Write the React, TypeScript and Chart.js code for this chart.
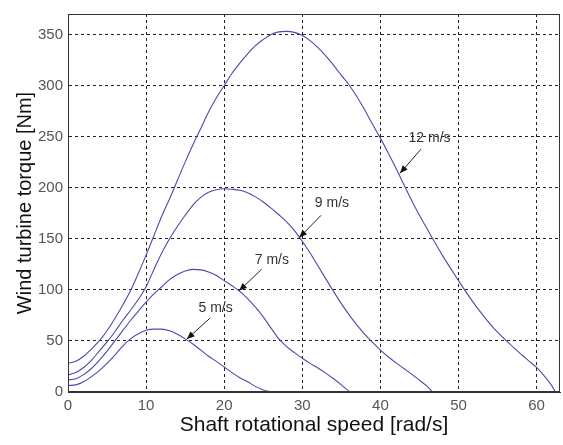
import React, { useEffect, useRef } from "react";
import { Chart, registerables } from "chart.js";

Chart.register(...registerables);

const xTicks = [0, 10, 20, 30, 40, 50, 60];
const yTicks = [0, 50, 100, 150, 200, 250, 300, 350];

const speed12 = [0,1,2,3,4,5,6,7,8,9,10,11,12,13,14,15,16,17,18,19,20,21,22,23,24,25,26,27,28,29,30,31,32,33,34,35,36,37,38,39,40,41,42,43,44,45,46,47,48,49,50,51,52,53,54,55,56,57,58,59,60,61,62,62.4];
const torque12 = [28,30,35,42,50,60,72,85,99,116,134,153,172,189,207,225,242,258,274,288,300,312,322,331,339,345,350,352.5,353,352,349,344,337,329,320,310,300.5,289,276,262,248.5,234,219,203,187.5,173,159.5,146,133,121,109,97.5,86.5,76.5,67,58.5,51,44,37,30.5,24,15.5,5.5,0];

const speed9 = [0,1,2,3,4,5,6,7,8,9,10,11,12,13,14,15,16,17,18,19,20,21,22,23,24,25,26,27,28,29,30,31,32,33,34,35,36,37,38,39,40,41,42,43,44,45,46,46.7];
const torque9 = [16.6,19,24,31,40,49,59,70,80,90.5,103,120,136,150,162,173,183,190.5,195.5,198,199,198.5,197.5,195,191,186,180,173.5,166.5,158,147.5,136,123.5,111,98.5,86.5,75.5,65.5,56.5,48.5,41,34.5,28.5,23,17.5,11.5,5.5,0];

const speed7 = [0,1,2,3,4,5,6,7,8,9,10,11,12,13,14,15,16,17,18,19,20,21,22,23,24,25,26,27,28,29,30,31,32,33,34,35,36.1];
const torque7 = [11.8,13,17,23,31,40,50,60,70,79,88,96,103,110,115,118.5,120,119.5,117.5,114,109,104,98.5,91.5,83,73.5,62.5,52,44.5,38.5,33,28,23.5,18.5,13,7,0];

const speed5 = [0,1,2,3,4,5,6,7,8,9,10,11,12,13,14,15,16,17,18,19,20,21,22,23,24,25,26];
const torque5 = [6.3,7,10,15,21,28,36,45,52,57,60.5,61.5,61.5,60,56.5,52,47,41,35,30,24.5,19,14,10,5.5,2,0];

const annotLabels = ["12 m/s", "9 m/s", "7 m/s", "5 m/s"];
const annotTextX = [46.3, 33.8, 26.1, 18.9];
const annotTextY = [248, 185, 129.5, 81.7];
const arrowFromX = [45.2, 32.4, 24.8, 18.2];
const arrowFromY = [237.7, 172.9, 120.2, 72.4];
const arrowTipX = [42.5, 29.6, 21.9, 15.2];
const arrowTipY = [214, 151, 99, 51.7];

const FONT = "'Liberation Sans', Arial, Helvetica, sans-serif";
const LINE = "#4a4aae";

function pts(xs: number[], ys: number[]) {
  return xs.map((x, i) => ({ x, y: ys[i] }));
}

export default function App() {
  const ref = useRef<HTMLCanvasElement>(null);

  useEffect(() => {
    const canvas = ref.current;
    if (!canvas) return;

    const frame = {
      id: "frame",
      afterDraw(chart: any) {
        const { ctx, chartArea: a } = chart;
        ctx.save();
        ctx.strokeStyle = "#333";
        ctx.lineWidth = 1;
        const l = Math.round(a.left) + 0.5;
        const t = Math.round(a.top) + 0.5;
        const r = Math.round(a.right) - 0.5;
        const b = Math.round(a.bottom) - 0.5;
        ctx.strokeRect(l, t, r - l, b - t);
        ctx.restore();
      },
    };

    const annots = {
      id: "annots",
      afterDatasetsDraw(chart: any) {
        const { ctx } = chart;
        const xs = chart.scales.x;
        const ys = chart.scales.y;
        ctx.save();
        for (let i = 0; i < annotLabels.length; i++) {
          const tx = xs.getPixelForValue(annotTextX[i]);
          const ty = ys.getPixelForValue(annotTextY[i]);
          const fx = xs.getPixelForValue(arrowFromX[i]);
          const fy = ys.getPixelForValue(arrowFromY[i]);
          const px = xs.getPixelForValue(arrowTipX[i]);
          const py = ys.getPixelForValue(arrowTipY[i]);
          ctx.fillStyle = "#333";
          ctx.font = `14px ${FONT}`;
          ctx.textAlign = "center";
          ctx.textBaseline = "middle";
          ctx.fillText(annotLabels[i], tx, ty);
          ctx.strokeStyle = "#222";
          ctx.lineWidth = 1;
          ctx.beginPath();
          ctx.moveTo(fx, fy);
          ctx.lineTo(px, py);
          ctx.stroke();
          const ang = Math.atan2(py - fy, px - fx);
          const len = 8;
          const hw = 3.2;
          const bx = px - len * Math.cos(ang);
          const by = py - len * Math.sin(ang);
          ctx.fillStyle = "#111";
          ctx.beginPath();
          ctx.moveTo(px, py);
          ctx.lineTo(bx + hw * Math.sin(ang), by - hw * Math.cos(ang));
          ctx.lineTo(bx - hw * Math.sin(ang), by + hw * Math.cos(ang));
          ctx.closePath();
          ctx.fill();
        }
        ctx.restore();
      },
    };

    const ds = (label: string, xs: number[], ys: number[]) => ({
      label,
      data: pts(xs, ys),
      borderColor: LINE,
      borderWidth: 1.1,
      pointRadius: 0,
      fill: false,
      cubicInterpolationMode: "monotone" as const,
    });

    const chart = new Chart(canvas, {
      type: "line",
      data: {
        datasets: [
          ds("12 m/s", speed12, torque12),
          ds("9 m/s", speed9, torque9),
          ds("7 m/s", speed7, torque7),
          ds("5 m/s", speed5, torque5),
        ],
      },
      options: {
        responsive: false,
        animation: false,
        layout: { padding: { top: 5, right: 3, left: 0, bottom: 0 } },
        plugins: {
          legend: { display: false },
          tooltip: { enabled: false },
        },
        scales: {
          x: {
            type: "linear",
            min: 0,
            max: 63,
            afterBuildTicks: (s: any) => {
              s.ticks = xTicks.map((v) => ({ value: v }));
            },
            afterFit: (s: any) => {
              s.height = 53;
            },
            grid: { color: "#222", lineWidth: 1, drawTicks: false },
            border: { display: true, color: "#333", width: 1, dash: [3, 3] },
            ticks: {
              padding: 5,
              color: "#555",
              maxRotation: 0,
              autoSkip: false,
              font: { family: FONT, size: 15 },
            },
            title: {
              display: true,
              text: "Shaft rotational speed [rad/s]",
              color: "#111",
              font: { family: FONT, size: 21 },
              padding: { top: 0, bottom: 7 },
            },
          },
          y: {
            type: "linear",
            min: 0,
            max: 370,
            afterBuildTicks: (s: any) => {
              s.ticks = yTicks.map((v) => ({ value: v }));
            },
            afterFit: (s: any) => {
              s.width = 68;
            },
            grid: { color: "#222", lineWidth: 1, drawTicks: false },
            border: { display: true, color: "#333", width: 1, dash: [3, 3] },
            ticks: {
              padding: 5,
              color: "#555",
              autoSkip: false,
              font: { family: FONT, size: 15 },
            },
            title: {
              display: true,
              text: "Wind turbine torque [Nm]",
              color: "#111",
              font: { family: FONT, size: 20 },
              padding: { top: 13, bottom: 0 },
            },
          },
        },
      },
      plugins: [frame, annots],
    });

    return () => chart.destroy();
  }, []);

  return (
    <div style={{ position: "absolute", left: 0, top: 0, width: 563, height: 445, background: "#fff" }}>
      <canvas ref={ref} width={563} height={445} />
    </div>
  );
}
